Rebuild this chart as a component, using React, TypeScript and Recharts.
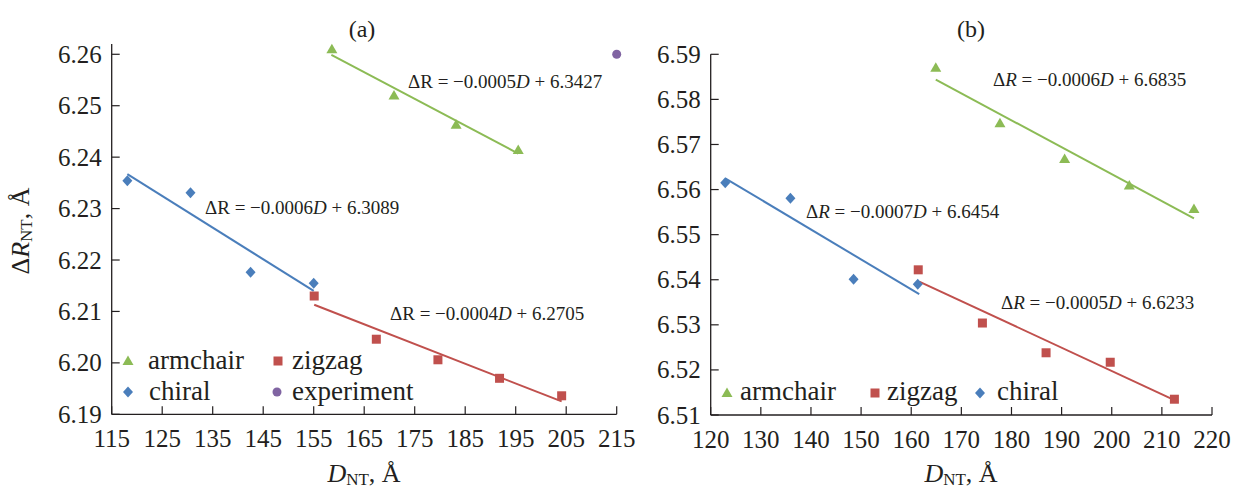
import React from 'react'
import { ScatterChart, Scatter, XAxis, YAxis } from 'recharts'

// panel (a)
const ARM_A_D = [158.6, 170.9, 183.2, 195.5]
const ARM_A_R = [6.261, 6.252, 6.2463, 6.2414]
const ZIG_A_D = [155.1, 167.4, 179.6, 191.8, 204.1]
const ZIG_A_R = [6.213, 6.2046, 6.2006, 6.197, 6.1936]
const CHI_A_D = [118.1, 130.6, 142.5, 155.0]
const CHI_A_R = [6.2354, 6.2331, 6.2176, 6.2155]
const EXP_A_D = [215]
const EXP_A_R = [6.26]
const FIT_ARM_A_D = [158.5, 195.5]
const FIT_ARM_A_R = [6.2599, 6.2407]
const FIT_CHI_A_D = [118.1, 155.0]
const FIT_CHI_A_R = [6.2367, 6.214]
const FIT_ZIG_A_D = [155.1, 204.1]
const FIT_ZIG_A_R = [6.2113, 6.1925]
const X_TICKS_A = [115, 125, 135, 145, 155, 165, 175, 185, 195, 205, 215]
const Y_TICKS_A = [6.19, 6.2, 6.21, 6.22, 6.23, 6.24, 6.25, 6.26]

// panel (b)
const ARM_B_D = [164.9, 177.7, 190.6, 203.5, 216.4]
const ARM_B_R = [6.587, 6.5747, 6.5668, 6.5609, 6.5557]
const ZIG_B_D = [161.4, 174.2, 186.9, 199.7, 212.5]
const ZIG_B_R = [6.5422, 6.5304, 6.5238, 6.5217, 6.5135]
const CHI_B_D = [122.9, 135.9, 148.5, 161.3]
const CHI_B_R = [6.5615, 6.5581, 6.5401, 6.539]
const FIT_ARM_B_D = [164.9, 216.4]
const FIT_ARM_B_R = [6.5844, 6.5536]
const FIT_CHI_B_D = [122.9, 161.6]
const FIT_CHI_B_R = [6.5625, 6.5368]
const FIT_ZIG_B_D = [161.6, 212.5]
const FIT_ZIG_B_R = [6.5396, 6.5133]
const X_TICKS_B = [120, 130, 140, 150, 160, 170, 180, 190, 200, 210, 220]
const Y_TICKS_B = [6.51, 6.52, 6.53, 6.54, 6.55, 6.56, 6.57, 6.58, 6.59]

const GREEN = '#8cbb55'
const RED = '#c0504d'
const BLUE = '#4a7ebb'
const PURPLE = '#8064a2'
const INK = '#231f20'
const FONT = '"Liberation Serif", "DejaVu Serif", serif'

const zip = (xs: number[], ys: number[]) => xs.map((x, i) => ({ x, y: ys[i] }))

const Tri = (p: any) => (
  <path d={`M${p.cx},${p.cy - 5.5}L${p.cx + 5.5},${p.cy + 4}L${p.cx - 5.5},${p.cy + 4}Z`} fill={GREEN} />
)
const Sq = (p: any) => <rect x={p.cx - 4.5} y={p.cy - 4.5} width={9} height={9} fill={RED} />
const Dia = (p: any) => (
  <path d={`M${p.cx},${p.cy - 5.5}L${p.cx + 5},${p.cy}L${p.cx},${p.cy + 5.5}L${p.cx - 5},${p.cy}Z`} fill={BLUE} />
)
const Dot = (p: any) => <circle cx={p.cx} cy={p.cy} r={4.5} fill={PURPLE} />
const Nothing = () => <g />

const XTick = (p: any) => (
  <g>
    <line x1={p.x} x2={p.x} y1={p.y} y2={p.y - 8} stroke={INK} strokeWidth={1.2} />
    <text x={p.x} y={p.y + 24} textAnchor="middle" dominantBaseline="central" fontFamily={FONT} fontSize={25} fill={INK}>
      {p.payload.value}
    </text>
  </g>
)
const YTick = (p: any) => (
  <g>
    <line x1={p.x} x2={p.x + 8} y1={p.y} y2={p.y} stroke={INK} strokeWidth={1.2} />
    <text x={p.x - 10} y={p.y} textAnchor="end" dominantBaseline="central" fontFamily={FONT} fontSize={25} fill={INK}>
      {Number(p.payload.value).toFixed(2)}
    </text>
  </g>
)

function Panel(props: {
  width: number
  margin: any
  yWidth: number
  xDomain: number[]
  yDomain: number[]
  xTicks: number[]
  yTicks: number[]
  children: React.ReactNode
}) {
  return (
    <ScatterChart width={props.width} height={488} margin={props.margin}>
      <XAxis type="number" dataKey="x" domain={props.xDomain} ticks={props.xTicks} height={60}
        axisLine={{ stroke: INK, strokeWidth: 1.3 }} tickLine={false} tickSize={0} tickMargin={0} tick={<XTick />} interval={0} />
      <YAxis type="number" dataKey="y" domain={props.yDomain} ticks={props.yTicks} width={props.yWidth}
        axisLine={{ stroke: INK, strokeWidth: 1.3 }} tickLine={false} tickSize={0} tickMargin={0} tick={<YTick />} interval={0} />
      {props.children}
    </ScatterChart>
  )
}

const fit = (d: { x: number; y: number }[], color: string) => (
  <Scatter data={d} line={{ stroke: color, strokeWidth: 2 }} shape={Nothing} isAnimationActive={false} />
)

function Overlay() {
  const t = { fontFamily: FONT, fill: INK }
  const eq = (x: number, y: number, c: string, k: string, italicR: boolean) => (
    <text x={x} y={y} dominantBaseline="central" fontSize={19} {...t}>
      {'\u0394'}<tspan fontStyle={italicR ? 'italic' : 'normal'}>R</tspan>{' = \u2212' + k}
      <tspan fontStyle="italic">D</tspan>{' + ' + c}
    </text>
  )
  return (
    <svg width={1237} height={488} style={{ position: 'absolute', left: 0, top: 0, pointerEvents: 'none' }}>
      <text x={362} y={29} textAnchor="middle" dominantBaseline="central" fontSize={24} {...t}>(a)</text>
      <text x={971} y={29} textAnchor="middle" dominantBaseline="central" fontSize={24} {...t}>(b)</text>

      {eq(408, 81, '6.3427', '0.0005', false)}
      {eq(205, 207, '6.3089', '0.0006', false)}
      {eq(390, 313, '6.2705', '0.0004', false)}
      {eq(993, 79, '6.6835', '0.0006', true)}
      {eq(806, 211, '6.6454', '0.0007', true)}
      {eq(1001, 302, '6.6233', '0.0005', true)}

      <text transform="translate(20,231) rotate(-90)" textAnchor="middle" dominantBaseline="central" fontSize={26} {...t}>
        {'\u0394'}<tspan fontStyle="italic">R</tspan><tspan fontSize={17} dy={6}>NT</tspan><tspan dy={-6}>, Å</tspan>
      </text>
      <text x={364} y={473} textAnchor="middle" dominantBaseline="central" fontSize={26} {...t}>
        <tspan fontStyle="italic">D</tspan><tspan fontSize={17} dy={6}>NT</tspan><tspan dy={-6}>, Å</tspan>
      </text>
      <text x={961} y={473} textAnchor="middle" dominantBaseline="central" fontSize={26} {...t}>
        <tspan fontStyle="italic">D</tspan><tspan fontSize={17} dy={6}>NT</tspan><tspan dy={-6}>, Å</tspan>
      </text>

      {/* legend (a) */}
      <Tri cx={128} cy={361} />
      <text x={148} y={360} dominantBaseline="central" fontSize={27} {...t}>armchair</text>
      <Sq cx={278} cy={361} />
      <text x={292} y={360} dominantBaseline="central" fontSize={27} {...t}>zigzag</text>
      <Dia cx={128} cy={392} />
      <text x={149} y={391} dominantBaseline="central" fontSize={27} {...t}>chiral</text>
      <Dot cx={277} cy={392} />
      <text x={292} y={391} dominantBaseline="central" fontSize={27} {...t}>experiment</text>

      {/* legend (b) */}
      <Tri cx={727} cy={393} />
      <text x={740} y={391} dominantBaseline="central" fontSize={27} {...t}>armchair</text>
      <Sq cx={875} cy={393} />
      <text x={887} y={391} dominantBaseline="central" fontSize={27} {...t}>zigzag</text>
      <Dia cx={980} cy={393} />
      <text x={997} y={391} dominantBaseline="central" fontSize={27} {...t}>chiral</text>
    </svg>
  )
}

export default function App() {
  return (
    <div style={{ position: 'absolute', left: 0, top: 0, width: 1237, height: 488, background: '#fff' }}>
      <div style={{ position: 'absolute', left: 0, top: 0 }}>
        <Panel width={640} margin={{ top: 44, right: 23.3, bottom: 13.7, left: 11.7 }} yWidth={100}
          xDomain={[115, 215]} yDomain={[6.19, 6.262]} xTicks={X_TICKS_A} yTicks={Y_TICKS_A}>
          {fit(zip(FIT_ARM_A_D, FIT_ARM_A_R), GREEN)}
          {fit(zip(FIT_CHI_A_D, FIT_CHI_A_R), BLUE)}
          {fit(zip(FIT_ZIG_A_D, FIT_ZIG_A_R), RED)}
          <Scatter data={zip(ARM_A_D, ARM_A_R)} shape={Tri} isAnimationActive={false} />
          <Scatter data={zip(ZIG_A_D, ZIG_A_R)} shape={Sq} isAnimationActive={false} />
          <Scatter data={zip(CHI_A_D, CHI_A_R)} shape={Dia} isAnimationActive={false} />
          <Scatter data={zip(EXP_A_D, EXP_A_R)} shape={Dot} isAnimationActive={false} />
        </Panel>
      </div>
      <div style={{ position: 'absolute', left: 620, top: 0 }}>
        <Panel width={617} margin={{ top: 54.3, right: 25, bottom: 13, left: 10.7 }} yWidth={80}
          xDomain={[120, 220]} yDomain={[6.51, 6.59]} xTicks={X_TICKS_B} yTicks={Y_TICKS_B}>
          {fit(zip(FIT_ARM_B_D, FIT_ARM_B_R), GREEN)}
          {fit(zip(FIT_CHI_B_D, FIT_CHI_B_R), BLUE)}
          {fit(zip(FIT_ZIG_B_D, FIT_ZIG_B_R), RED)}
          <Scatter data={zip(ARM_B_D, ARM_B_R)} shape={Tri} isAnimationActive={false} />
          <Scatter data={zip(ZIG_B_D, ZIG_B_R)} shape={Sq} isAnimationActive={false} />
          <Scatter data={zip(CHI_B_D, CHI_B_R)} shape={Dia} isAnimationActive={false} />
        </Panel>
      </div>
      <Overlay />
    </div>
  )
}
